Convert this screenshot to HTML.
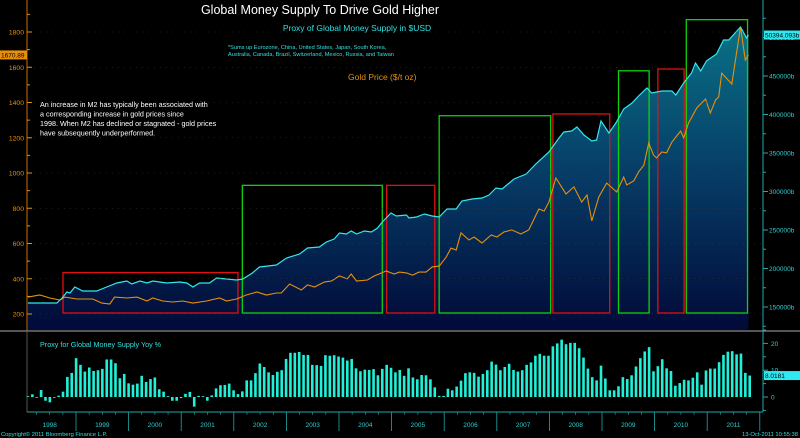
<!DOCTYPE html>
<html><head><meta charset="utf-8">
<style>
html,body{margin:0;padding:0;background:#000;}
svg{display:block;font-family:"Liberation Sans",sans-serif;}
</style></head>
<body>
<svg id="chart" width="800" height="438" viewBox="0 0 800 438" xmlns="http://www.w3.org/2000/svg">
<defs>
<linearGradient id="areaGrad" gradientUnits="userSpaceOnUse" x1="0" y1="20" x2="0" y2="330">
<stop offset="0" stop-color="#0a7488"/>
<stop offset="0.5" stop-color="#063c66"/>
<stop offset="1" stop-color="#020a38"/>
</linearGradient>
</defs>
<rect x="0" y="0" width="800" height="438" fill="#000"/>
<g id="area"></g>
<g id="boxes"></g>
<g id="lines"></g>
<g id="axes"></g>
<g id="bars"></g>
<text x="320" y="14" fill="#fff" font-size="12.5" text-anchor="middle">Global Money Supply To Drive Gold Higher</text>
<text x="357" y="31" fill="#2fe0e0" font-size="8.5" text-anchor="middle">Proxy of Global Money Supply in $USD</text>
<text x="228" y="49" fill="#2fe0e0" font-size="5.6">*Sums up Eurozone, China, United States, Japan, South Korea,</text>
<text x="228" y="56" fill="#2fe0e0" font-size="5.6">Australia, Canada, Brazil, Switzerland, Mexico, Russia, and Taiwan</text>
<text x="348" y="80" fill="#e8900a" font-size="8.5">Gold Price ($/t oz)</text>
<g fill="#fff" font-size="7.2">
<text x="40" y="107">An increase in M2 has typically been associated with</text>
<text x="40" y="116.5">a corresponding increase in gold prices since</text>
<text x="40" y="126">1998. When M2 has declined or stagnated - gold prices</text>
<text x="40" y="135.5">have subsequently underperformed.</text>
</g>
<text x="40" y="347" fill="#2fe0e0" font-size="7.2">Proxy for Global Money Supply Yoy %</text>
<text x="1" y="436" fill="#2fe0e0" font-size="5.8">Copyright© 2011 Bloomberg Finance L.P.</text>
<text x="798" y="436" fill="#2fe0e0" font-size="5.8" text-anchor="end">13-Oct-2011 10:55:38</text>
</svg>
<script>
// ---- data ----
const m2Months = [0,2.7,6.6,7.8,8.9,9.6,10.7,12.5,15.7,18,20.3,22.6,23.7,25.6,27.2,28.5,31.7,34.7,36.3,37.7,39.2,41.5,43.1,45.4,47.7,49.1,51.3,52.9,56.8,59.1,62.1,63.9,66.6,68.2,70,71.2,72.8,73.9,75.1,76.9,78.5,79.9,81,83,84.2,86.5,87.1,88.8,90.6,92.4,94,95.8,97.9,99.2,101.5,103.8,105.4,107,108.4,111.1,113.9,116.1,119.1,121.4,122.5,124.3,125.5,127.1,128.9,130,131,132.8,134.4,136.2,138.1,139.6,141.5,142.6,144.9,147.2,148.1,149.9,151.7,152.6,153.8,155.1,157.4,159,160.2,162.9,164.3,164.7];
const m2Values = [155200,155200,155200,161700,169500,168200,176000,170800,170800,176000,181200,183800,179900,183800,181200,183800,181200,182500,181200,176000,181200,181200,187700,186400,185100,186400,194200,201900,204500,213600,218800,226600,227900,234400,238300,246100,244800,248700,244800,248700,247400,252600,260400,272100,268200,269500,265600,266900,270800,268200,266900,277300,277300,287700,290300,291600,295500,304500,303200,316200,322700,335700,351300,369500,377300,378600,383800,373400,365600,366900,391600,376000,389000,407100,414900,424000,434400,427900,430500,430500,425300,440900,453900,466900,456500,469500,478600,496800,496800,513600,499300,503200];
const goldMonths = [0,2.7,5,7.3,8.4,11.2,13.5,14.8,16.9,18.7,19.8,22.6,24.9,27.2,28.5,30.8,33.1,35.4,37.7,40.8,43.8,45.4,47.7,49.9,52.3,54.5,56.8,57.9,59.8,62.5,63.9,65.5,67.8,69.4,71.2,73,73.9,75.1,77.6,79.2,81.9,83.7,84.9,86.5,87.9,89.4,91,92.4,94,95.6,96.7,97.9,99,100.8,102,103.8,105.9,107.2,108.8,110.6,112.7,114.5,116.8,118,119.1,120.7,123,124.8,126.6,127.8,128.9,130.5,132.3,134.6,136.2,136.9,138.5,139.6,140.8,141.9,143,143.7,144.9,146,147.2,149.2,149.9,151,152.9,154.9,156,157.2,157.9,158.6,160.9,162.9,164,164.7];
const goldValues = [296,308,291,279,296,285,285,285,262,257,296,291,296,274,291,274,268,274,262,274,291,274,285,308,325,308,319,319,370,336,365,353,382,387,416,399,427,387,393,416,444,427,438,433,421,438,438,467,472,523,574,563,660,620,637,603,648,637,665,677,654,677,796,784,835,972,881,921,835,875,728,864,943,892,977,932,955,1006,1045,1170,1102,1085,1119,1114,1176,1238,1199,1284,1369,1420,1340,1414,1431,1567,1505,1828,1641,1670];
const yoyValues = [0.3,1,0,2.6,-1.4,-2,0,0.5,2,7.5,9,14.5,12,9.5,11,9.7,10,10.5,14,14,12.6,7,8.6,5.1,4.6,5,7.9,5.6,6.7,7.3,2.9,2,0.3,-1.4,-1.4,-0.4,1.2,1.9,-3.6,0.4,0.3,-1.4,0.6,3.2,4.4,4.5,5,2.5,1.1,2.1,6.2,6.2,8.9,12.5,11.2,9.2,8.2,9.4,10,14.2,16.5,16.5,16.8,15.7,15.7,12,11.9,11.6,15.6,15.4,15.6,15.1,14.7,13.6,14.2,10.7,9.6,10.2,10.1,10.4,8.1,10.5,12,10.9,9.2,10.1,7.9,10.7,7.3,6.6,8.2,8.1,6.6,3.6,0.4,0.4,3.1,2.5,3.9,6.1,8.9,9.2,9,7.6,8.6,10,13.2,12.1,10,11.2,12.4,10.1,9.5,10,12,12.9,15.4,16.1,15.4,15.4,18.9,20,21.4,19.7,20.2,20.2,18.2,14.7,10.6,7.4,6.2,11.7,6.9,2.5,2.5,4,7.4,6.7,8.1,11.4,14.5,17,18.6,9.6,11.5,14.1,10.7,9.7,4.2,5.2,6.4,6.2,7.2,9.2,4.6,9.9,10.6,10.6,13,15.7,16.9,17.1,15.9,16.2,9,8];
const years = ["1998","1999","2000","2001","2002","2003","2004","2005","2006","2007","2008","2009","2010","2011"];
const goldTicks = [200,400,600,800,1000,1200,1400,1600,1800];
const m2Ticks = [150000,200000,250000,300000,350000,400000,450000,500000];
const yoyTicks = [0,10,20];
// annotation boxes: [startMonth, endMonth, topGold-axis value, color]
const boxStart = [8,49,82,94,120,135,144,150.5];
const boxEnd = [48,81,93,119.5,133,142,150,164.5];
const boxTopGold = [435,930,930,1325,1335,1580,1590,1870];
const boxColor = ["#e01010","#10d010","#e01010","#10d010","#e01010","#10d010","#e01010","#10d010"];

// ---- scales ----
const NS='http://www.w3.org/2000/svg';
const xM = m => 28 + m*4.374;
const xYear = k => 23.4 + k*52.6;
const yGold = v => 314 - (v-200)/5.674;
const yM2 = v => 307 - (v-150000)/1298.7;
const yYoy = v => 397 - v*2.68;
function mk(tag, attrs, parent){const e=document.createElementNS(NS,tag);for(const k in attrs)e.setAttribute(k,attrs[k]);parent.appendChild(e);return e;}

const area=document.getElementById('area'), lines=document.getElementById('lines'), axes=document.getElementById('axes'), bars=document.getElementById('bars'), boxes=document.getElementById('boxes');

// area
let pts=m2Months.map((m,i)=>xM(m).toFixed(1)+','+yM2(m2Values[i]).toFixed(1));
let ap=mk('polygon',{points:xM(m2Months[0]).toFixed(1)+',330 '+pts.join(' ')+' '+xM(m2Months[m2Months.length-1]).toFixed(1)+',330',fill:'url(#areaGrad)'},area);



// faint grid
for(const v of goldTicks){const g=mk('line',{x1:28,x2:762,y1:yGold(v),y2:yGold(v),stroke:'#3a3a3a','stroke-width':0.6,'stroke-dasharray':'1 5'},axes);

}

// boxes
boxStart.forEach((s,i)=>{const r=mk('rect',{x:xM(s),y:yGold(boxTopGold[i]),width:xM(boxEnd[i])-xM(s),height:313-yGold(boxTopGold[i]),fill:'none',stroke:boxColor[i],'stroke-width':1.3},boxes);

});

// lines
let gl=mk('polyline',{points:goldMonths.map((m,i)=>xM(m).toFixed(1)+','+yGold(goldValues[i]).toFixed(1)).join(' '),fill:'none',stroke:'#e8900a','stroke-width':1.1},lines);


let ml=mk('polyline',{points:pts.join(' '),fill:'none',stroke:'#30e8f0','stroke-width':1.2},lines);



// axes lines
let a1=mk('line',{x1:27,x2:27,y1:0,y2:331,stroke:'#c87000','stroke-width':1},axes);


let a2=mk('line',{x1:763,x2:763,y1:0,y2:412,stroke:'#20a8a8','stroke-width':1},axes);


let sep=mk('line',{x1:0,x2:800,y1:331,y2:331,stroke:'#888','stroke-width':1.2},axes);


let a3=mk('line',{x1:27,x2:27,y1:332,y2:412,stroke:'#555','stroke-width':1},axes);


let a4=mk('line',{x1:27,x2:763,y1:412,y2:412,stroke:'#20a8a8','stroke-width':1},axes);



for(let v=200; v<=1900; v+=100){mk('line',{x1:27,x2:v%200==0?32:30,y1:yGold(v),y2:yGold(v),stroke:'#e8900a','stroke-width':1},axes);}
goldTicks.forEach(v=>{const t=mk('text',{x:24,y:yGold(v)+2.5,fill:'#e8900a','font-size':6.8,'text-anchor':'end'},axes);t.textContent=v;

});
for(let v=125000; v<=525000; v+=25000){mk('line',{x1:763,x2:v%50000==0?768:766,y1:yM2(v),y2:yM2(v),stroke:'#20a8a8','stroke-width':1},axes);}
m2Ticks.forEach(v=>{const t=mk('text',{x:769,y:yM2(v)+2.5,fill:'#2fd0d0','font-size':6.5},axes);t.textContent=v+'b';

});
for(let v=-5; v<=25; v+=5){mk('line',{x1:763,x2:v%10==0?768:766,y1:yYoy(v),y2:yYoy(v),stroke:'#20a8a8','stroke-width':1},axes);}
yoyTicks.forEach(v=>{const t=mk('text',{x:771,y:yYoy(v)+2.5,fill:'#2fd0d0','font-size':6.5},axes);t.textContent=v;

});

// highlight labels
function badge(x,y,w,txt,bg,fg,name){const g=mk('g',{},axes);
mk('rect',{x:x,y:y-4.5,width:w,height:9,fill:bg},g);const t=mk('text',{x:x+1,y:y+2.5,fill:fg,'font-size':6.5},g);t.textContent=txt;}
badge(0,yGold(goldValues[goldValues.length-1]),27,'1670.89','#e8900a','#000','gold-last-value');
badge(764,yM2(m2Values[m2Values.length-1]),36,'50394.093b','#30e8f0','#000','m2-last-value');
badge(764,yYoy(yoyValues[yoyValues.length-1]),36,'8.0181','#30e8f0','#000','yoy-last-value');

// year axis
years.forEach((y,k)=>{const t=mk('text',{x:xYear(k)+26.3,y:427,fill:'#2fd0d0','font-size':6.5,'text-anchor':'middle'},axes);t.textContent=y;


mk('line',{x1:xYear(k+1),x2:xYear(k+1),y1:412,y2:431,stroke:'#20a8a8','stroke-width':0.8},axes);
for(let q=1;q<4;q++) mk('line',{x1:xYear(k)+q*13.15,x2:xYear(k)+q*13.15,y1:412,y2:415,stroke:'#20a8a8','stroke-width':0.6},axes);});

// bars
yoyValues.forEach((v,i)=>{const y0=yYoy(0), y1=yYoy(v);
const b=mk('rect',{x:xM(i)-1.3,y:Math.min(y0,y1),width:2.6,height:Math.max(0.8,Math.abs(y1-y0)),fill:'#20f0d8'},bars);

});
</script>
</body></html>
